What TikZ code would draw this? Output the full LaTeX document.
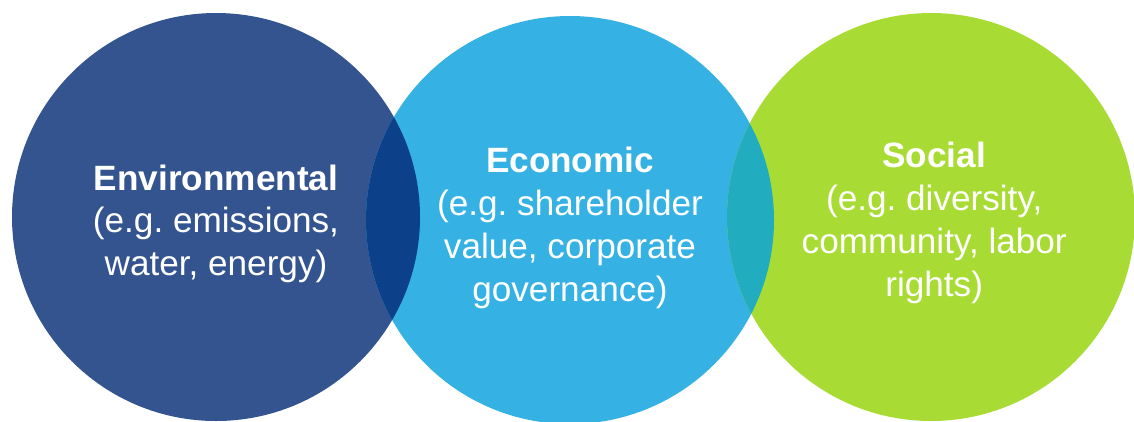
\documentclass[tikz,border=0pt]{standalone}
\usepackage{fontspec}
\setmainfont{Liberation Sans}
\usepackage{xcolor}
\usepackage{tikz}
\usetikzlibrary{calc}
\frenchspacing
\definecolor{env}{HTML}{34548F}
\definecolor{eco}{HTML}{35B2E3}
\definecolor{soc}{HTML}{A8DC35}
\definecolor{envEco}{HTML}{0C418A}
\definecolor{ecoSoc}{HTML}{22ACBF}
\definecolor{text}{HTML}{FFFFFF}
\tikzset{
  lab/.style={text=text, align=center, font=\fontsize{25}{30.5}\selectfont},
  every node/.style={text=text}
}
\newcommand{\rad}{5.1}

\begin{document}
\begin{tikzpicture}
  \useasboundingbox (0,0) rectangle (28.35,-10.525);
  \coordinate (E) at (5.4,-5.425);
  \coordinate (M) at (14.25,-5.5);
  \coordinate (S) at (23.275,-5.425);

  \begin{scope}
    \clip (0,0) rectangle (28.35,-10.525);
    \fill[env] (E) circle (\rad);
    \fill[eco] (M) circle (\rad);
    \fill[soc] (S) circle (\rad);

    % overlaps
    \begin{scope}
      \clip (E) circle (\rad);
      \fill[envEco] (M) circle (\rad);
    \end{scope}
    \begin{scope}
      \clip (M) circle (\rad);
      \fill[ecoSoc] (S) circle (\rad);
    \end{scope}
  \end{scope}

  \node[lab] (envL) at ($(E)+(0,-0.17)$) {\textbf{Environmental}\\(e.g. emissions,\\water, energy)};
  \node[lab] (ecoL) at ($(M)+(0,-0.2)$) {\textbf{Economic}\\(e.g. shareholder\\value, corporate\\governance)};
  \node[lab] (socL) at ($(S)+(0.08,-0.15)$) {\textbf{Social}\\(e.g. diversity,\\community, labor\\rights)};
\end{tikzpicture}
\end{document}
